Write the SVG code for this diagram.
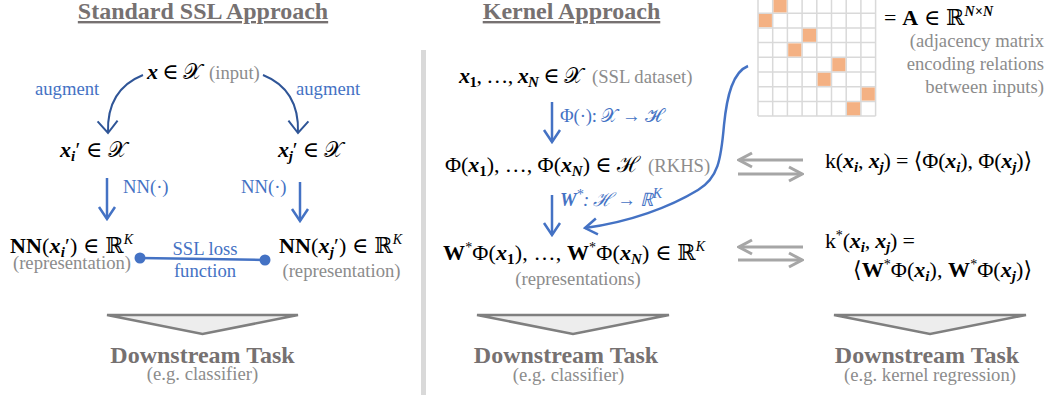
<svg xmlns="http://www.w3.org/2000/svg" width="1051" height="398" viewBox="0 0 1051 398">
<style>
text{font-family:"Liberation Serif","DejaVu Serif",serif}
.ttl{font-weight:bold;font-size:24px;fill:#767171;text-decoration:underline}
.ds{font-weight:bold;font-size:24px;fill:#767171}
.g{font-size:18.67px;fill:#8C8C8C}
.bl{font-size:18.67px;fill:#4472C4}
.m{font-size:22px;fill:#000}
.bi{font-weight:bold;font-style:italic}
.b{font-weight:bold}
.it{font-style:italic}
.sub{font-size:15px}
.sup{font-size:14px}
.grid{stroke:#D9D9D9;stroke-width:1.5;fill:none}
.cell{fill:#F4B183}
.tri{fill:#EDEDED;stroke:#7F7F7F;stroke-width:2.5;stroke-linejoin:miter;stroke-miterlimit:2}
.ab{fill:none;stroke:#4472C4;stroke-width:2.5;marker-end:url(#mb)}
.ad{fill:none;stroke:#2F5597;stroke-width:2;marker-end:url(#md)}
.ag{fill:none;stroke:#A6A6A6;stroke-width:3;marker-end:url(#mg)}
</style>
<defs>
<marker id="mb" markerUnits="userSpaceOnUse" viewBox="-14 -10 16 20" markerWidth="16" markerHeight="20" refX="0" refY="0" orient="auto"><path d="M-12,-8 L0,0 L-12,8" fill="none" stroke="#4472C4" stroke-width="2.5"/></marker>
<marker id="md" markerUnits="userSpaceOnUse" viewBox="-14 -12 16 24" markerWidth="16" markerHeight="24" refX="0" refY="0" orient="auto"><path d="M-12,-10 L0,0 L-12,10" fill="none" stroke="#2F5597" stroke-width="2"/></marker>
<marker id="mg" markerUnits="userSpaceOnUse" viewBox="-15 -10 17 20" markerWidth="17" markerHeight="20" refX="0" refY="0" orient="auto"><path d="M-13,-7 L0,0 L-13,7" fill="none" stroke="#A6A6A6" stroke-width="3"/></marker>
</defs>
<rect width="1051" height="398" fill="#fff"/>
<rect id="separator" x="421" y="50" width="5" height="345" fill="#D9D9D9"/>

<g id="title-standard"><text x="203" y="19" text-anchor="middle" class="ttl">Standard SSL Approach</text></g>
<g id="title-kernel"><text x="571.5" y="19" text-anchor="middle" class="ttl">Kernel Approach</text></g>

<g id="node-input"><text x="147" y="79" class="m" textLength="55" lengthAdjust="spacing"><tspan class="bi">x</tspan> ∈ 𝒳</text><text x="209" y="79" class="g">(input)</text></g>
<g id="node-xi"><text x="60" y="157" class="m" textLength="67" lengthAdjust="spacing"><tspan class="bi">x</tspan><tspan class="bi sub" dy="4">i</tspan><tspan dy="-4">′ ∈ 𝒳</tspan></text></g>
<g id="node-xj"><text x="278" y="157" class="m" textLength="65" lengthAdjust="spacing"><tspan class="bi">x</tspan><tspan class="bi sub" dy="4">j</tspan><tspan dy="-4">′ ∈ 𝒳</tspan></text></g>
<g id="node-nni"><text x="10" y="253" class="m" textLength="123" lengthAdjust="spacing"><tspan class="b">NN</tspan>(<tspan class="bi">x</tspan><tspan class="bi sub" dy="4">i</tspan><tspan dy="-4">′) ∈ ℝ</tspan><tspan class="it sup" dy="-9">K</tspan></text><text x="72" y="269" text-anchor="middle" class="g">(representation)</text></g>
<g id="node-nnj"><text x="279" y="253" class="m" textLength="123" lengthAdjust="spacing"><tspan class="b">NN</tspan>(<tspan class="bi">x</tspan><tspan class="bi sub" dy="4">j</tspan><tspan dy="-4">′) ∈ ℝ</tspan><tspan class="it sup" dy="-9">K</tspan></text><text x="341.5" y="277" text-anchor="middle" class="g">(representation)</text></g>
<g id="ds-left"><polygon class="tri" points="107,315 298,315 202.5,334"/><text x="202.5" y="363" text-anchor="middle" class="ds">Downstream Task</text><text x="202.5" y="380" text-anchor="middle" class="g">(e.g. classifier)</text></g>

<g id="node-dataset"><text x="459" y="83" class="m" textLength="124" lengthAdjust="spacing"><tspan class="bi">x</tspan><tspan class="b sub" dy="4">1</tspan><tspan dy="-4">, …, </tspan><tspan class="bi">x</tspan><tspan class="bi sub" dy="4">N</tspan><tspan dy="-4"> ∈ 𝒳</tspan></text><text x="592" y="83" class="g">(SSL dataset)</text></g>
<g id="node-rkhs"><text x="445" y="172" class="m" textLength="195" lengthAdjust="spacing">Φ(<tspan class="bi">x</tspan><tspan class="b sub" dy="4">1</tspan><tspan dy="-4">), …, Φ(</tspan><tspan class="bi">x</tspan><tspan class="bi sub" dy="4">N</tspan><tspan dy="-4">) ∈ ℋ</tspan></text><text x="648" y="172" class="g">(RKHS)</text></g>
<g id="node-reps"><text x="443" y="260" class="m" textLength="262" lengthAdjust="spacing"><tspan class="b">W</tspan><tspan class="sup" dy="-8">*</tspan><tspan dy="8">Φ(</tspan><tspan class="bi">x</tspan><tspan class="b sub" dy="4">1</tspan><tspan dy="-4">), …, </tspan><tspan class="b">W</tspan><tspan class="sup" dy="-8">*</tspan><tspan dy="8">Φ(</tspan><tspan class="bi">x</tspan><tspan class="bi sub" dy="4">N</tspan><tspan dy="-4">) ∈ ℝ</tspan><tspan class="it sup" dy="-9">K</tspan></text><text x="578" y="285" text-anchor="middle" class="g">(representations)</text></g>
<g id="ds-middle"><polygon class="tri" points="477,315 669,315 573,334"/><text x="566" y="363" text-anchor="middle" class="ds">Downstream Task</text><text x="568.5" y="381" text-anchor="middle" class="g">(e.g. classifier)</text></g>

<g id="node-matrix">
<g class="grid">
<path d="M758,-1.5V116M772.7,-1.5V116M787.4,-1.5V116M802.1,-1.5V116M816.8,-1.5V116M831.5,-1.5V116M846.2,-1.5V116M860.9,-1.5V116M875.6,-1.5V116"/>
<path d="M758,13.2H875.6M758,27.9H875.6M758,42.6H875.6M758,57.3H875.6M758,72H875.6M758,86.7H875.6M758,101.4H875.6M758,116H875.6"/>
</g>
<rect class="cell" x="773.5" y="-0.7" width="13.1" height="13.1"/>
<rect class="cell" x="758.8" y="14" width="13.1" height="13.1"/>
<rect class="cell" x="802.9" y="28.7" width="13.1" height="13.1"/>
<rect class="cell" x="788.2" y="43.4" width="13.1" height="13.1"/>
<rect class="cell" x="832.3" y="58.1" width="13.1" height="13.1"/>
<rect class="cell" x="817.6" y="72.8" width="13.1" height="13.1"/>
<rect class="cell" x="861.7" y="87.5" width="13.1" height="13.1"/>
<rect class="cell" x="847" y="102.2" width="13.1" height="13.1"/>
<text x="884" y="25" class="m" textLength="109" lengthAdjust="spacing">= <tspan class="b">A</tspan> ∈ ℝ<tspan class="bi sup" dy="-9">N×N</tspan></text>
<text x="1044" y="47" text-anchor="end" class="g">(adjacency matrix</text>
<text x="1044" y="70" text-anchor="end" class="g">encoding relations</text>
<text x="1044" y="93" text-anchor="end" class="g">between inputs)</text>
</g>

<g id="node-kernel"><text x="825" y="168" class="m" textLength="207" lengthAdjust="spacing">k(<tspan class="bi">x</tspan><tspan class="bi sub" dy="4">i</tspan><tspan dy="-4">, </tspan><tspan class="bi">x</tspan><tspan class="bi sub" dy="4">j</tspan><tspan dy="-4">) = ⟨Φ(</tspan><tspan class="bi">x</tspan><tspan class="bi sub" dy="4">i</tspan><tspan dy="-4">), Φ(</tspan><tspan class="bi">x</tspan><tspan class="bi sub" dy="4">j</tspan><tspan dy="-4">)⟩</tspan></text></g>
<g id="node-kernel-star"><text x="825" y="248" class="m" textLength="90" lengthAdjust="spacing">k<tspan class="sup" dy="-8">*</tspan><tspan dy="8">(</tspan><tspan class="bi">x</tspan><tspan class="bi sub" dy="4">i</tspan><tspan dy="-4">, </tspan><tspan class="bi">x</tspan><tspan class="bi sub" dy="4">j</tspan><tspan dy="-4">) =</tspan></text><text x="853" y="277" class="m" textLength="179" lengthAdjust="spacing">⟨<tspan class="b">W</tspan><tspan class="sup" dy="-8">*</tspan><tspan dy="8">Φ(</tspan><tspan class="bi">x</tspan><tspan class="bi sub" dy="4">i</tspan><tspan dy="-4">), </tspan><tspan class="b">W</tspan><tspan class="sup" dy="-8">*</tspan><tspan dy="8">Φ(</tspan><tspan class="bi">x</tspan><tspan class="bi sub" dy="4">j</tspan><tspan dy="-4">)⟩</tspan></text></g>
<g id="ds-right"><polygon class="tri" points="834,315 1026,315 930,334"/><text x="927" y="363" text-anchor="middle" class="ds">Downstream Task</text><text x="930" y="381" text-anchor="middle" class="g">(e.g. kernel regression)</text></g>

<g id="connectors">
<path class="ad" d="M143,75 C118,85 107,105 108,133"/>
<path class="ad" d="M263,75 C288,85 299,105 298,133"/>
<text x="35" y="95" class="bl">augment</text>
<text x="296" y="95" class="bl">augment</text>
<path class="ab" d="M107,178 V219"/>
<path class="ab" d="M300,182 V221"/>
<text x="123" y="193" class="bl">NN(·)</text>
<text x="241" y="193" class="bl">NN(·)</text>
<path d="M140,258 L265,260" stroke="#4472C4" stroke-width="2.5" fill="none"/>
<circle cx="140" cy="258" r="5.5" fill="#4472C4"/>
<circle cx="265" cy="260" r="5.5" fill="#4472C4"/>
<text x="205" y="255" text-anchor="middle" class="bl">SSL loss</text>
<text x="205" y="277" text-anchor="middle" class="bl">function</text>
<path class="ab" d="M552,102 V142"/>
<text x="560" y="122" class="bl" textLength="102" lengthAdjust="spacing">Φ(·): 𝒳 → ℋ</text>
<path class="ab" d="M552,195 V235"/>
<text x="560" y="206" class="bl it" textLength="102" lengthAdjust="spacing"><tspan class="bi">W</tspan><tspan class="sup" dy="-7">*</tspan><tspan dy="7">: ℋ → ℝ</tspan><tspan class="sup" dy="-8">K</tspan></text>
<path class="ab" d="M748,66 C733,72 727,95 724,125 C721,160 718,178 698,190 C670,207 630,222 585,228"/>
<path class="ag" d="M803,160 H739"/>
<path class="ag" d="M738,174 H802"/>
<path class="ag" d="M803,247 H739"/>
<path class="ag" d="M738,260 H802"/>
</g>
</svg>
